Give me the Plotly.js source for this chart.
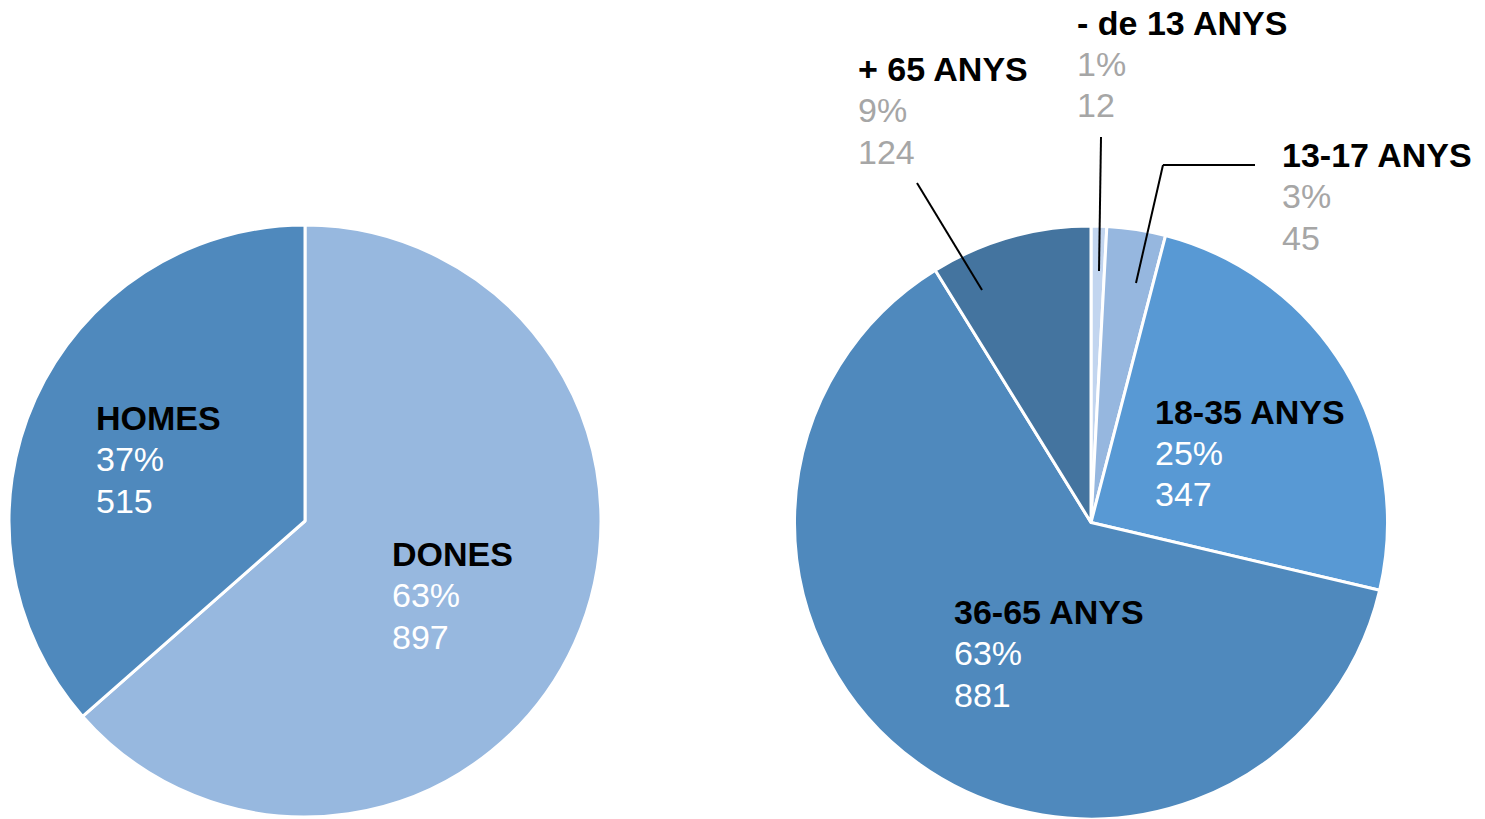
<!DOCTYPE html>
<html>
<head>
<meta charset="utf-8">
<script src="https://cdn.plot.ly/plotly-3.0.1.min.js"></script>
<style>html,body{margin:0;padding:0;background:#fff;}#chart{width:1485px;height:819px;}</style>
</head>
<body>
<div id="chart"></div>
<script>
// Left pie: gender
const genderLabels = ["DONES", "HOMES"];
const genderValues = [897, 515];
const genderPct = ["63%", "37%"];
const genderColors = ["#97B8DF", "#4F89BD"];

// Right pie: age groups
const ageLabels = ["- de 13 ANYS", "13-17 ANYS", "18-35 ANYS", "36-65 ANYS", "+ 65 ANYS"];
const ageValues = [12, 45, 347, 881, 124];
const agePct = ["1%", "3%", "25%", "63%", "9%"];
const ageColors = ["#C2D5EF", "#96B7DF", "#5899D4", "#4F89BD", "#44749F"];

const W = 1485, H = 819;
const px = x => x / W;
const py = y => 1 - y / H;

const FONT = "Liberation Sans, Arial, sans-serif";

const traces = [
  {
    type: "pie", labels: genderLabels, values: genderValues,
    marker: {colors: genderColors, line: {color: "#ffffff", width: 3}},
    sort: false, direction: "clockwise", rotation: 0,
    textinfo: "none", hoverinfo: "none", showlegend: false,
    domain: {x: [px(9), px(601)], y: [py(817), py(225)]}
  },
  {
    type: "pie", labels: ageLabels, values: ageValues,
    marker: {colors: ageColors, line: {color: "#ffffff", width: 3}},
    sort: false, direction: "clockwise", rotation: 0,
    textinfo: "none", hoverinfo: "none", showlegend: false,
    domain: {x: [px(794), px(1388)], y: [0, py(226)]}
  }
];

// label block placement (left edge x, middle-line y) and colour of the numbers
const genderPos = [[390, 595, "#ffffff"], [94, 459, "#ffffff"]];
const agePos = [[1075, 64, "#A6A6A6"], [1280, 196, "#A6A6A6"], [1153, 453, "#ffffff"], [952, 653, "#ffffff"], [856, 110, "#A6A6A6"]];

const annotations = [];
const LS = 41.5;
function addLabels(labels, values, pct, pos) {
  labels.forEach((lab, i) => {
    const p = pos[i];
    const lines = [["<b>" + lab + "</b>", "#000000"], [pct[i], p[2]], [String(values[i]), p[2]]];
    lines.forEach((l, k) => {
      annotations.push({
        xref: "paper", yref: "paper", x: px(p[0]), y: py(p[1] + (k - 1) * LS),
        xanchor: "left", yanchor: "middle", align: "left", showarrow: false,
        text: l[0], font: {family: FONT, size: 34, color: l[1]}
      });
    });
  });
}
addLabels(genderLabels, genderValues, genderPct, genderPos);
addLabels(ageLabels, ageValues, agePct, agePos);

const ln = (x0, y0, x1, y1) => ({type: "line", xref: "paper", yref: "paper",
  x0: px(x0), y0: py(y0), x1: px(x1), y1: py(y1), line: {color: "#000000", width: 2}});
const shapes = [
  ln(917, 183, 982, 290),
  ln(1101, 137, 1099, 271),
  ln(1255, 165, 1163, 165),
  ln(1163, 165, 1136, 283)
];

Plotly.newPlot("chart", traces, {
  width: W, height: H,
  margin: {l: 0, r: 0, t: 0, b: 0},
  paper_bgcolor: "#ffffff", plot_bgcolor: "#ffffff",
  showlegend: false,
  font: {family: FONT},
  annotations: annotations,
  shapes: shapes
}, {displayModeBar: false, staticPlot: true});
</script>
</body>
</html>
